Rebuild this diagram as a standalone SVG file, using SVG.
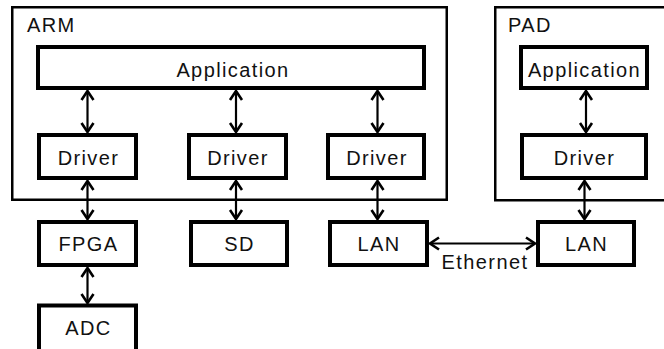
<svg xmlns="http://www.w3.org/2000/svg" width="664" height="349" viewBox="0 0 664 349">
<defs>
<style>
.frame{fill:none;stroke:#000;stroke-width:2.5}
.box{fill:#fff;stroke:#000;stroke-width:4}
.lbl{font-family:"Liberation Sans",Arial,sans-serif;font-size:20px;letter-spacing:1.4px;fill:#111}
.c{text-anchor:middle}
.conn{stroke:#000;stroke-width:2.2;fill:none;marker-start:url(#ah);marker-end:url(#ah)}
</style>
<marker id="ah" markerUnits="userSpaceOnUse" viewBox="-12 -8 14 16" markerWidth="14" markerHeight="16" refX="0" refY="0" orient="auto-start-reverse">
<path d="M-9,-6 L0,0 L-9,6" fill="none" stroke="#000" stroke-width="2.6"/>
</marker>
</defs>
<rect width="664" height="349" fill="#fff"/>
<g id="ARM">
<rect class="frame" x="12.25" y="7.25" width="434.5" height="192.5"/>
<text class="lbl" x="27" y="32">ARM</text>
</g>
<g id="PAD">
<rect class="frame" x="495.25" y="7.25" width="180" height="193"/>
<text class="lbl" x="508" y="32">PAD</text>
</g>
<g id="connectors">
<line class="conn" x1="87.5" y1="91" x2="87.5" y2="132"/>
<line class="conn" x1="236" y1="91" x2="236" y2="132"/>
<line class="conn" x1="377.5" y1="91" x2="377.5" y2="132"/>
<line class="conn" x1="586" y1="91" x2="586" y2="132"/>
<line class="conn" x1="87.5" y1="181" x2="87.5" y2="219"/>
<line class="conn" x1="236" y1="181" x2="236" y2="219"/>
<line class="conn" x1="377.5" y1="181" x2="377.5" y2="219"/>
<line class="conn" x1="584.5" y1="181" x2="584.5" y2="219"/>
<line class="conn" x1="87.5" y1="268" x2="87.5" y2="303"/>
<line class="conn" x1="430" y1="243.5" x2="535" y2="243.5"/>
<text class="lbl c" x="485" y="269">Ethernet</text>
</g>
<g id="arm-app">
<rect class="box" x="38" y="47" width="386" height="41"/>
<text class="lbl c" x="233" y="77">Application</text>
</g>
<g id="driver1">
<rect class="box" x="39" y="135" width="97" height="43"/>
<text class="lbl c" x="88.5" y="165">Driver</text>
</g>
<g id="driver2">
<rect class="box" x="189" y="135" width="97" height="43"/>
<text class="lbl c" x="238" y="165">Driver</text>
</g>
<g id="driver3">
<rect class="box" x="328" y="135" width="96" height="43"/>
<text class="lbl c" x="377" y="165">Driver</text>
</g>
<g id="pad-app">
<rect class="box" x="521" y="47" width="126" height="41"/>
<text class="lbl c" x="584.5" y="77">Application</text>
</g>
<g id="pad-driver">
<rect class="box" x="522" y="135" width="124" height="43"/>
<text class="lbl c" x="584.5" y="165">Driver</text>
</g>
<g id="fpga">
<rect class="box" x="39" y="222" width="97" height="43"/>
<text class="lbl c" x="88.5" y="251">FPGA</text>
</g>
<g id="sd">
<rect class="box" x="191" y="222" width="96" height="43"/>
<text class="lbl c" x="239.5" y="251">SD</text>
</g>
<g id="lan1">
<rect class="box" x="330" y="222" width="97" height="43"/>
<text class="lbl c" x="379" y="251">LAN</text>
</g>
<g id="lan2">
<rect class="box" x="538" y="222" width="96" height="43"/>
<text class="lbl c" x="586.5" y="251">LAN</text>
</g>
<g id="adc">
<rect class="box" x="39" y="305.5" width="97" height="50"/>
<text class="lbl c" x="88.5" y="335">ADC</text>
</g>
</svg>
